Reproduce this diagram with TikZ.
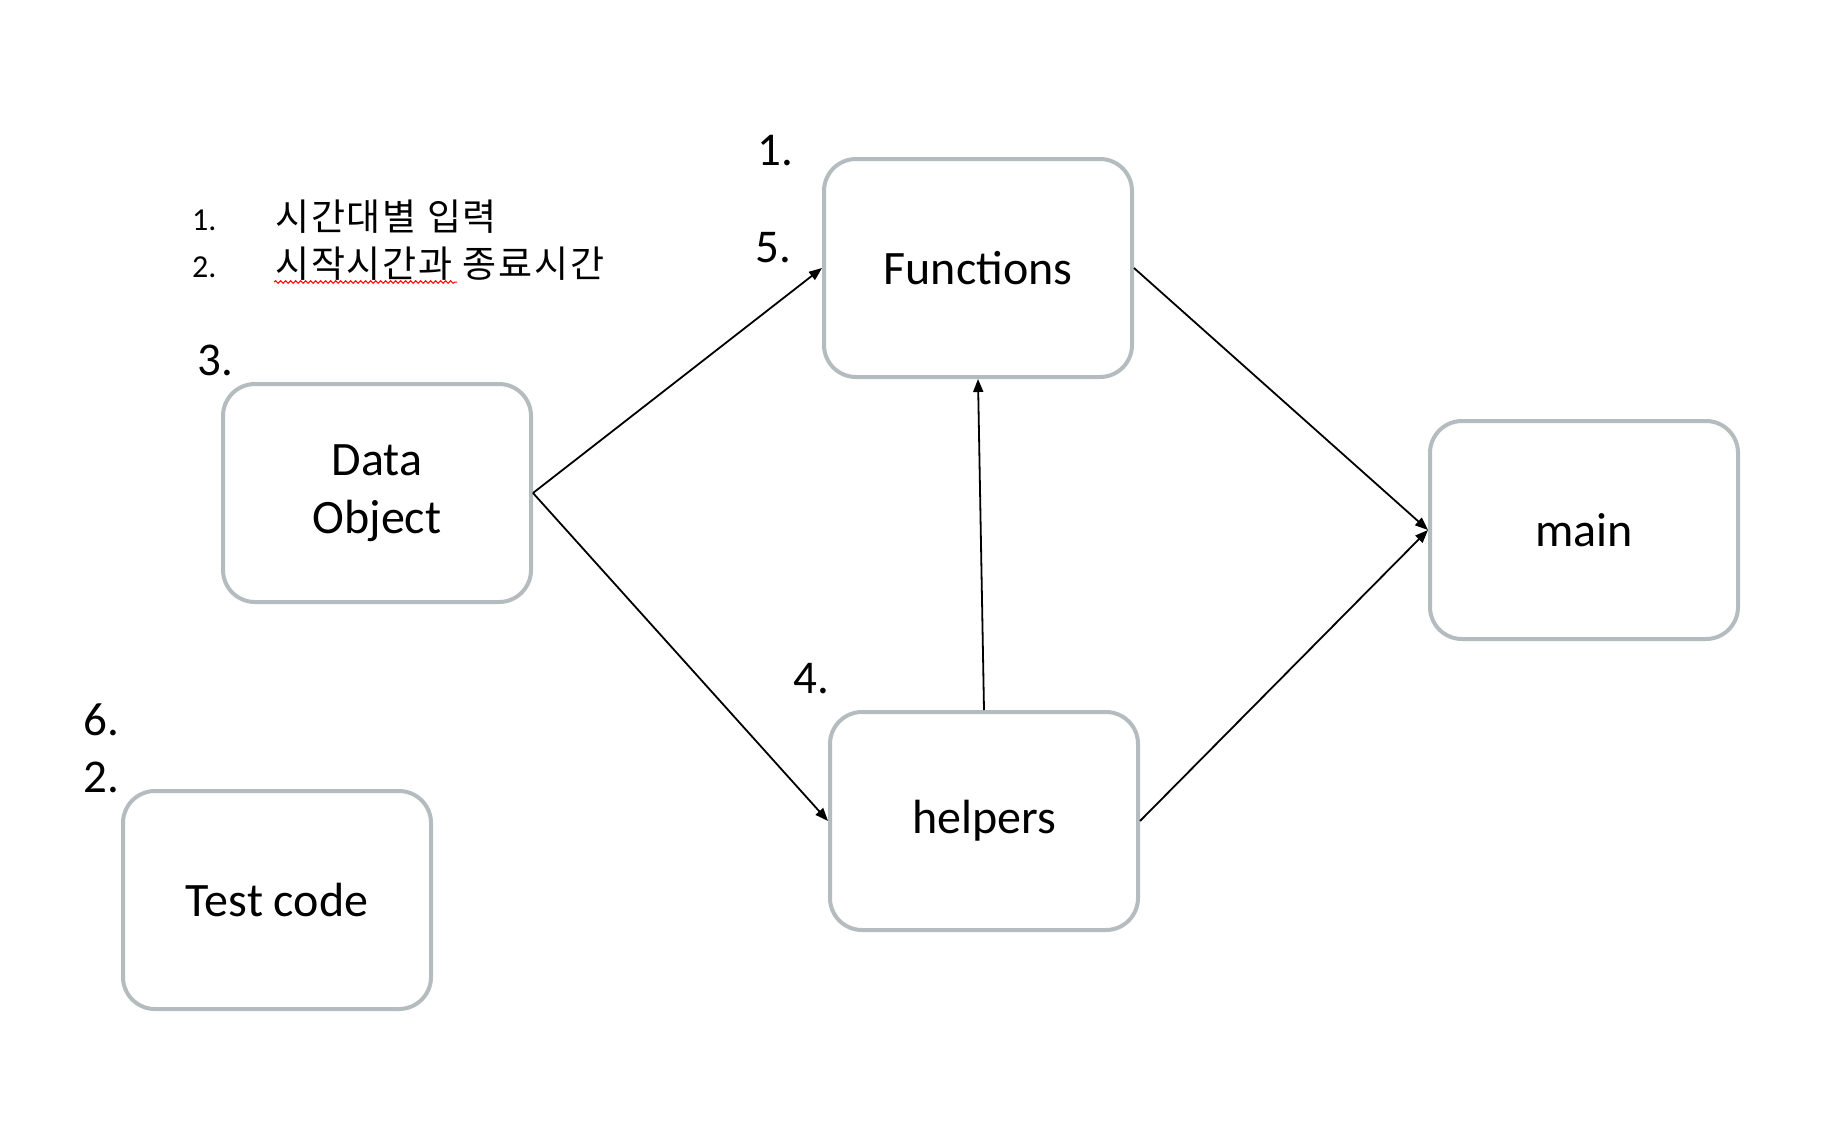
\documentclass[tikz,border=0pt]{standalone}
\usepackage{fontspec}
\setmainfont{Carlito}
\newfontfamily\kor[LetterSpace=5]{Noto Sans CJK KR}
\usetikzlibrary{arrows.meta,decorations.pathmorphing}
\definecolor{boxgray}{RGB}{181,188,191}
\tikzset{
  box/.style={draw=boxgray, line width=4pt, rounded corners=32pt, minimum width=308pt, minimum height=218pt, inner sep=0pt, align=center, font=\fontsize{48}{58}\selectfont},
  numlab/.style={anchor=base west, inner sep=0pt, font=\fontsize{47}{56}\selectfont},
  listnum/.style={anchor=base west, inner sep=0pt, font=\fontsize{32}{38}\selectfont},
  listtxt/.style={anchor=base west, inner sep=0pt, font=\kor\fontsize{37}{44}\selectfont},
  conn/.style={line width=1.8pt, -{Triangle[length=13pt,width=10pt]}}
}
\begin{document}
\begin{tikzpicture}[x=1pt,y=-1pt]
\useasboundingbox[fill=white] (0,0) rectangle (1836,1122);
\node[box] (func) at (978,268) {Functions};
\node[box] (dobj) at (377,493) {Data\\Object};
\node[box] (main) at (1584,530) {main};
\node[box] (help) at (984,821) {helpers};
\node[box] (test) at (277,900) {Test code};
\node[numlab] (n1) at (757,165) {1.};
\node[numlab] (n5) at (755,262) {5.};
\node[numlab] (n3) at (197,375) {3.};
\node[numlab] (n4) at (793,693) {4.};
\node[numlab] (n6) at (83,735) {6.};
\node[numlab] (n2) at (83,792) {2.};
\node[listnum] (l1) at (192,230) {1.};
\node[listnum] (l2) at (192,277) {2.};
\node[listtxt] (t1) at (275,230) {시간대별 입력};
\node[listtxt] (t2) at (275,277) {시작시간과 종료시간};
\coordinate (wa) at (274,282);
\coordinate (wb) at (457,282);
\draw[red, line width=1pt, decorate, decoration={snake, segment length=5pt, amplitude=1.3pt}] (wa) -- (wb);
\draw[conn] (dobj.east) -- (func.west);
\draw[conn] (dobj.east) -- (help.west);
\draw[conn] (help.north) -- (func.south);
\draw[conn] (func.east) -- (main.west);
\draw[conn] (help.east) -- (main.west);
\end{tikzpicture}
\end{document}
